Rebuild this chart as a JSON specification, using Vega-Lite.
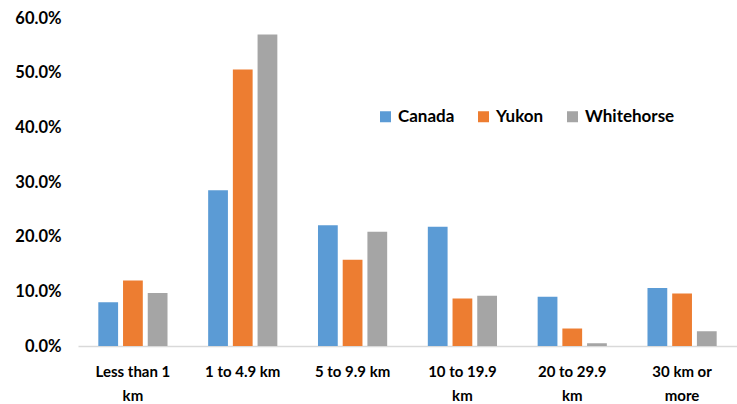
{
  "$schema": "https://vega.github.io/schema/vega-lite/v6.json",
  "width": 659,
  "height": 328,
  "autosize": {"type": "none"},
  "padding": {"left": 78, "top": 18, "right": 0, "bottom": 58},
  "background": "white",
  "config": {"view": {"stroke": null}, "font": "Lato"},
  "data": {
    "values": [
      {"distance": "Less than 1 km", "region": "Canada", "share": 0.080},
      {"distance": "Less than 1 km", "region": "Yukon", "share": 0.120},
      {"distance": "Less than 1 km", "region": "Whitehorse", "share": 0.097},
      {"distance": "1 to 4.9 km", "region": "Canada", "share": 0.285},
      {"distance": "1 to 4.9 km", "region": "Yukon", "share": 0.506},
      {"distance": "1 to 4.9 km", "region": "Whitehorse", "share": 0.570},
      {"distance": "5 to 9.9 km", "region": "Canada", "share": 0.221},
      {"distance": "5 to 9.9 km", "region": "Yukon", "share": 0.158},
      {"distance": "5 to 9.9 km", "region": "Whitehorse", "share": 0.209},
      {"distance": "10 to 19.9 km", "region": "Canada", "share": 0.218},
      {"distance": "10 to 19.9 km", "region": "Yukon", "share": 0.087},
      {"distance": "10 to 19.9 km", "region": "Whitehorse", "share": 0.092},
      {"distance": "20 to 29.9 km", "region": "Canada", "share": 0.090},
      {"distance": "20 to 29.9 km", "region": "Yukon", "share": 0.032},
      {"distance": "20 to 29.9 km", "region": "Whitehorse", "share": 0.005},
      {"distance": "30 km or more", "region": "Canada", "share": 0.106},
      {"distance": "30 km or more", "region": "Yukon", "share": 0.096},
      {"distance": "30 km or more", "region": "Whitehorse", "share": 0.027}
    ]
  },
  "mark": {"type": "bar"},
  "encoding": {
    "x": {
      "field": "distance",
      "type": "nominal",
      "sort": null,
      "scale": {"paddingInner": 0.37, "paddingOuter": 0.185},
      "axis": {
        "title": null,
        "labelAngle": 0,
        "labelFont": "Lato",
        "labelFontWeight": "bold",
        "labelFontSize": 15,
        "labelColor": "#000000",
        "labelPadding": 18,
        "labelLineHeight": 24,
        "labelOverlap": false,
        "ticks": false,
        "domainColor": "#d9d9d9",
        "domainWidth": 1.5,
        "labelExpr": "datum.value == 'Less than 1 km' ? ['Less than 1', 'km'] : datum.value == '10 to 19.9 km' ? ['10 to 19.9', 'km'] : datum.value == '20 to 29.9 km' ? ['20 to 29.9', 'km'] : datum.value == '30 km or more' ? ['30 km or', 'more'] : datum.value"
      }
    },
    "xOffset": {
      "field": "region",
      "type": "nominal",
      "sort": ["Canada", "Yukon", "Whitehorse"],
      "scale": {"paddingInner": 0.2, "paddingOuter": 0}
    },
    "y": {
      "field": "share",
      "type": "quantitative",
      "scale": {"domain": [0, 0.6]},
      "axis": {
        "title": null,
        "format": ".1%",
        "values": [0, 0.1, 0.2, 0.3, 0.4, 0.5, 0.6],
        "labelOverlap": false,
        "grid": false,
        "domain": false,
        "ticks": false,
        "labelFont": "Lato",
        "labelFontWeight": "bold",
        "labelFontSize": 16.5,
        "labelColor": "#000000",
        "labelPadding": 17
      }
    },
    "color": {
      "field": "region",
      "type": "nominal",
      "sort": ["Canada", "Yukon", "Whitehorse"],
      "scale": {"domain": ["Canada", "Yukon", "Whitehorse"], "range": ["#5b9bd5", "#ed7d31", "#a5a5a5"]},
      "legend": {
        "title": null,
        "orient": "none",
        "direction": "horizontal",
        "legendX": 299,
        "legendY": 90,
        "symbolType": "square",
        "symbolSize": 121,
        "symbolStrokeWidth": 0,
        "labelFont": "Lato",
        "labelFontWeight": "bold",
        "labelFontSize": 17,
        "labelColor": "#000000",
        "columnPadding": 20,
        "labelOffset": 4
      }
    }
  }
}
